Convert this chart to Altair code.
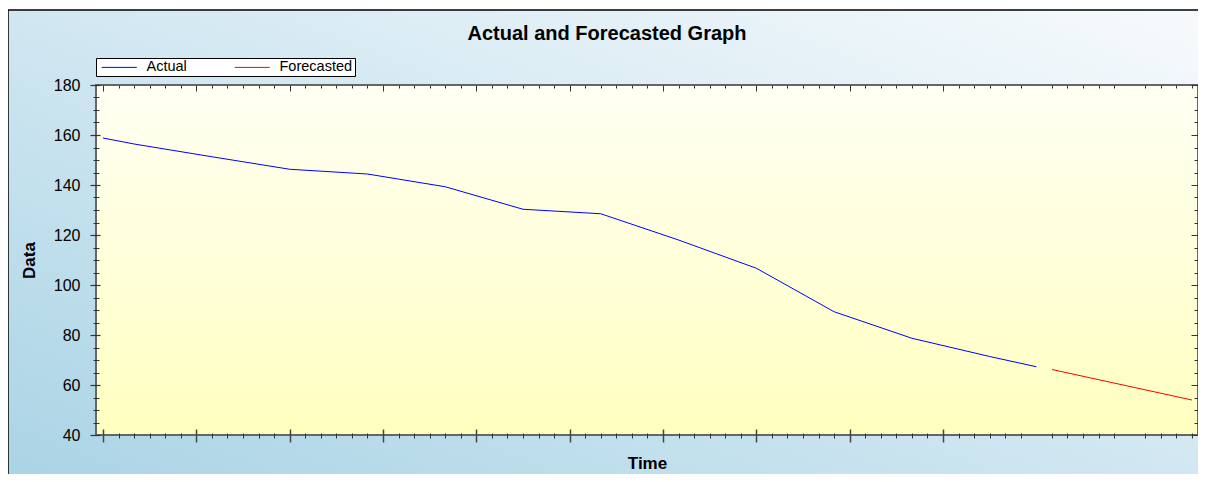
import altair as alt
import pandas as pd

# ---- data ----
actual_t = [0, 2, 7, 12, 17, 22, 27, 32, 37, 42, 47, 52, 57, 60]
actual_v = [158.8, 156.4, 151.3, 146.3, 144.4, 139.3, 130.3, 128.5, 118.0, 106.7, 89.3, 78.7, 71.4, 67.3]
forecast_t = [61, 70]
forecast_v = [66.2, 54.0]
series_names = ["Actual", "Forecasted"]
series_colors = ["#0000ff", "#ff0000"]

y_major = list(range(40, 181, 20))
y_minor = [v for v in range(40, 181, 5) if v % 20 != 0]
x_major = list(range(0, 55, 6))
x_minor = [v for v in range(0, 71) if v % 6 != 0]

df = pd.DataFrame({
    "t": actual_t + forecast_t,
    "v": actual_v + forecast_v,
    "series": [series_names[0]] * len(actual_t) + [series_names[1]] * len(forecast_t),
})
one = pd.DataFrame({"k": [0]})

W, H = 1102, 350
FONT = "Liberation Sans"

x_scale = alt.Scale(domain=[-0.45, 70.39], nice=False, zero=False)
y_scale = alt.Scale(domain=[40, 180], nice=False, zero=False)

outer_grad = alt.LinearGradient(
    gradient="linear", x1=0, y1=1, x2=1, y2=0,
    stops=[alt.GradientStop(color="#a9d3e5", offset=0),
           alt.GradientStop(color="#f8fbfd", offset=1)])
plot_grad = alt.LinearGradient(
    gradient="linear", x1=0, y1=0, x2=0, y2=1,
    stops=[alt.GradientStop(color="#fffff4", offset=0),
           alt.GradientStop(color="#ffffc0", offset=1)])

outer_bg = alt.Chart(one).mark_rect(fill=outer_grad, stroke="black", strokeWidth=1.5).encode(
    x=alt.value(-88), x2=alt.value(W + 30), y=alt.value(-75), y2=alt.value(H + 60))
plot_bg = alt.Chart(one).mark_rect(fill=plot_grad, stroke="#666666", strokeWidth=2).encode(
    x=alt.value(0), x2=alt.value(W), y=alt.value(0), y2=alt.value(H))

tick_common = dict(domain=False, labels=False, grid=False, title=None, tickColor="#333333", zindex=1)

line = alt.Chart(df).mark_line(strokeWidth=1).encode(
    x=alt.X("t:Q", scale=x_scale,
            axis=alt.Axis(orient="bottom", values=x_major, tickSize=13, offset=-6, tickWidth=1.5,
                          domain=False, grid=False, labels=False, title="Time", titleFont=FONT,
                          titleFontSize=17, titleFontWeight="bold", titleColor="black",
                          titlePadding=13, tickColor="#444444", zindex=1)),
    y=alt.Y("v:Q", scale=y_scale,
            axis=alt.Axis(orient="left", values=y_major, tickSize=10, offset=-4, tickWidth=1.2,
                          domain=False, grid=False, labelFont=FONT, labelFontSize=16,
                          labelColor="black", labelPadding=10, title="Data", titleFont=FONT,
                          titleFontSize=17, titleFontWeight="bold", titleColor="black",
                          titlePadding=15, tickColor="#333333", zindex=1)),
    color=alt.Color("series:N", scale=alt.Scale(domain=series_names, range=series_colors),
                    legend=alt.Legend(orient="none", legendX=0, legendY=-27, direction="horizontal",
                                      title=None, fillColor="white", strokeColor="black",
                                      padding=2, symbolType="M-3.5,0H3.5", symbolSize=100,
                                      symbolStrokeWidth=1, symbolOffset=14, labelOffset=20,
                                      labelFont=FONT, labelFontSize=14.5, labelColor="black",
                                      columnPadding=44, zindex=1)),
)

minor_bl = alt.Chart(df).mark_line(opacity=0).encode(
    x=alt.X("t:Q", scale=x_scale,
            axis=alt.Axis(orient="bottom", values=x_minor, tickSize=5, offset=-2, **tick_common)),
    y=alt.Y("v:Q", scale=y_scale,
            axis=alt.Axis(orient="left", values=y_minor, tickSize=6, offset=-3, **tick_common)),
    detail="series:N",
)
major_tr = alt.Chart(df).mark_line(opacity=0).encode(
    x=alt.X("t:Q", scale=x_scale,
            axis=alt.Axis(orient="top", values=x_major, tickSize=6, offset=-6, **tick_common)),
    y=alt.Y("v:Q", scale=y_scale,
            axis=alt.Axis(orient="right", values=y_major, tickSize=7, offset=-7, **tick_common)),
    detail="series:N",
)
minor_tr = alt.Chart(df).mark_line(opacity=0).encode(
    x=alt.X("t:Q", scale=x_scale,
            axis=alt.Axis(orient="top", values=x_minor, tickSize=3, offset=-3, **tick_common)),
    y=alt.Y("v:Q", scale=y_scale,
            axis=alt.Axis(orient="right", values=y_minor, tickSize=4, offset=-4, **tick_common)),
    detail="series:N",
)

chart = alt.layer(outer_bg, plot_bg, line, minor_bl, major_tr, minor_tr).resolve_axis(
    x="independent", y="independent"
).properties(
    width=W, height=H,
    autosize=alt.AutoSizeParams(type="none"),
    padding={"left": 88, "top": 77, "right": 0, "bottom": 39},
    title=alt.TitleParams("Actual and Forecasted Graph", font=FONT, fontSize=20, fontWeight="bold",
                          color="black", anchor="middle", frame="group", dx=-40, offset=-51,
                          baseline="alphabetic", zindex=1),
).configure_view(stroke=None).configure_axis(grid=False)

chart.save("out.html", embed_options={"renderer": "svg", "actions": False})
